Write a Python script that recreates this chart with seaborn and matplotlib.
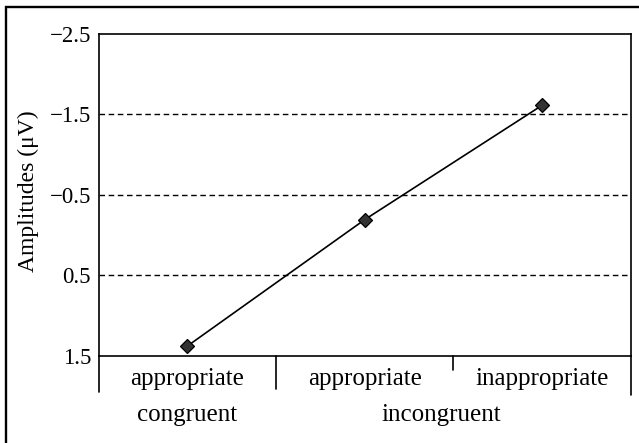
import matplotlib
matplotlib.use("Agg")
import matplotlib.pyplot as plt
import seaborn as sns
import pandas as pd
from matplotlib.patches import Rectangle

# -------------------------------------------------------
# Data
# -------------------------------------------------------
groups = ["congruent", "incongruent", "incongruent"]
conditions = ["appropriate", "appropriate", "inappropriate"]
amplitudes = [1.38, -0.19, -1.61]

y_ticks = [-2.5, -1.5, -0.5, 0.5, 1.5]
grid_levels = [-1.5, -0.5, 0.5]
group_labels = ["congruent", "incongruent"]
group_centers = [0, 1.43]

df = pd.DataFrame({
    "cell": [g + " " + c for g, c in zip(groups, conditions)],
    "amplitude": amplitudes,
})

sns.set_theme(style="white")
plt.rcParams["font.family"] = ["Liberation Serif", "DejaVu Serif"]
plt.rcParams["axes.unicode_minus"] = True

W, H = 639, 443
fig = plt.figure(figsize=(W / 100, H / 100), dpi=100)
left, right, top, bottom = 98.7, 630.7, 33.7, 355.7
ax = fig.add_axes([left / W, (H - bottom) / H, (right - left) / W, (bottom - top) / H])

sns.pointplot(data=df, x="cell", y="amplitude", ax=ax, color="black",
              markers="D", markersize=7.5, linewidth=1.2, errorbar=None,
              markerfacecolor="#333333", markeredgecolor="black")

# dashed reference lines
for lvl in grid_levels:
    ax.axhline(lvl, color="black", linewidth=1.0, dashes=(4.0, 2.6), zorder=0)

ax.set_xlim(-0.5, 2.5)
ax.set_ylim(1.5, -2.5)
ax.set_yticks(y_ticks)
ax.set_yticklabels([f"{v:.1f}".replace("-", "\u2212") for v in y_ticks])
ax.set_xticks(range(len(conditions)))
ax.set_xticklabels(conditions)
ax.tick_params(axis="both", length=0, colors="black")
ax.tick_params(axis="y", pad=5.5, labelsize=16.5)
ax.tick_params(axis="x", pad=8.5, labelsize=18)
ax.set_xlabel("")
ax.set_ylabel("Amplitudes (\u03bcV)", fontsize=17, color="black")
ax.yaxis.set_label_coords(-0.112, 0.51)

for s in ax.spines.values():
    s.set_color("black")
    s.set_linewidth(1.2)

# category separators below the axis
trans = ax.get_xaxis_transform()
for xpos, ylow in [(-0.5, -0.112), (0.5, -0.103), (1.5, -0.045), (2.5, -0.122)]:
    ax.plot([xpos, xpos], [0, ylow], color="black", linewidth=1.2,
            transform=trans, clip_on=False)

# group labels (second row)
for lab, xc in zip(group_labels, group_centers):
    ax.text(xc, -0.183, lab, transform=trans, ha="center", va="center",
            fontsize=18, color="black")

# outer frame
fig.patches.append(Rectangle((6 / W, -0.05), 1.0, 0.984 + 0.05, transform=fig.transFigure,
                             fill=False, edgecolor="black", linewidth=1.7))

fig.savefig("out.png", dpi=100)
